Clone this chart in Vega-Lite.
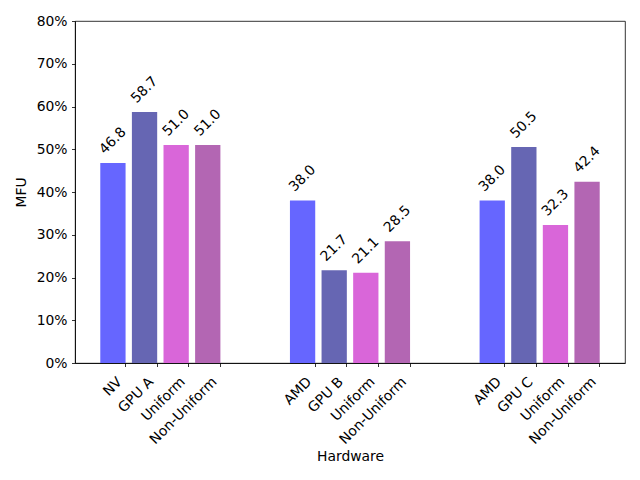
{
  "$schema": "https://vega.github.io/schema/vega-lite/v6.json",
  "width": 550,
  "height": 342,
  "autosize": {"type": "none"},
  "padding": {"left": 75, "top": 21, "right": 15, "bottom": 117},
  "background": "white",
  "config": {
    "view": {"stroke": "black", "strokeWidth": 0.8},
    "font": "DejaVu Sans",
    "axis": {
      "grid": false,
      "domainColor": "black",
      "domainWidth": 0.8,
      "tickColor": "black",
      "tickWidth": 0.8,
      "tickSize": 3.5,
      "labelColor": "black",
      "labelFontSize": 13.9,
      "labelPadding": 4.5,
      "titleColor": "black",
      "titleFontSize": 13.9,
      "titleFontWeight": "normal"
    }
  },
  "data": {
    "values": [
      {"id": "1 NV", "series": "Base", "mfu": 46.8},
      {"id": "1 GPU A", "series": "GPU", "mfu": 58.7},
      {"id": "1 Uniform", "series": "Uniform", "mfu": 51.0},
      {"id": "1 Non-Uniform", "series": "Non-Uniform", "mfu": 51.0},
      {"id": "2 AMD", "series": "Base", "mfu": 38.0},
      {"id": "2 GPU B", "series": "GPU", "mfu": 21.7},
      {"id": "2 Uniform", "series": "Uniform", "mfu": 21.1},
      {"id": "2 Non-Uniform", "series": "Non-Uniform", "mfu": 28.5},
      {"id": "3 AMD", "series": "Base", "mfu": 38.0},
      {"id": "3 GPU C", "series": "GPU", "mfu": 50.5},
      {"id": "3 Uniform", "series": "Uniform", "mfu": 32.3},
      {"id": "3 Non-Uniform", "series": "Non-Uniform", "mfu": 42.4}
    ]
  },
  "encoding": {
    "x": {
      "field": "id",
      "type": "nominal",
      "title": "Hardware",
      "scale": {
        "domain": ["1 NV", "1 GPU A", "1 Uniform", "1 Non-Uniform", "gap1", "gap2",
                   "2 AMD", "2 GPU B", "2 Uniform", "2 Non-Uniform", "gap3", "gap4",
                   "3 AMD", "3 GPU C", "3 Uniform", "3 Non-Uniform"],
        "paddingInner": 0.2,
        "paddingOuter": 0.8
      },
      "axis": {
        "values": ["1 NV", "1 GPU A", "1 Uniform", "1 Non-Uniform",
                   "2 AMD", "2 GPU B", "2 Uniform", "2 Non-Uniform",
                   "3 AMD", "3 GPU C", "3 Uniform", "3 Non-Uniform"],
        "labelExpr": "substring(datum.label, 2)",
        "labelAngle": -45,
        "labelAlign": "right",
        "labelBaseline": "top",
        "labelPadding": 8,
        "labelOffset": 2,
        "bandPosition": 1,
        "titlePadding": 3
      }
    },
    "y": {
      "field": "mfu",
      "type": "quantitative",
      "title": "MFU",
      "scale": {"domain": [0, 80], "nice": false},
      "axis": {
        "values": [0, 10, 20, 30, 40, 50, 60, 70, 80],
        "labelExpr": "datum.value + '%'",
        "titlePadding": 8
      }
    }
  },
  "layer": [
    {
      "mark": {"type": "bar"},
      "encoding": {
        "color": {
          "field": "series",
          "type": "nominal",
          "legend": null,
          "scale": {
            "domain": ["Base", "GPU", "Uniform", "Non-Uniform"],
            "range": ["#6666ff", "#6666b3", "#d966d9", "#b366b3"]
          }
        }
      }
    },
    {
      "mark": {"type": "text", "angle": -45, "align": "center", "baseline": "middle", "yOffset": -22, "fontSize": 13.9, "color": "black"},
      "encoding": {
        "text": {"field": "mfu", "type": "quantitative", "format": ".1f"}
      }
    }
  ]
}
